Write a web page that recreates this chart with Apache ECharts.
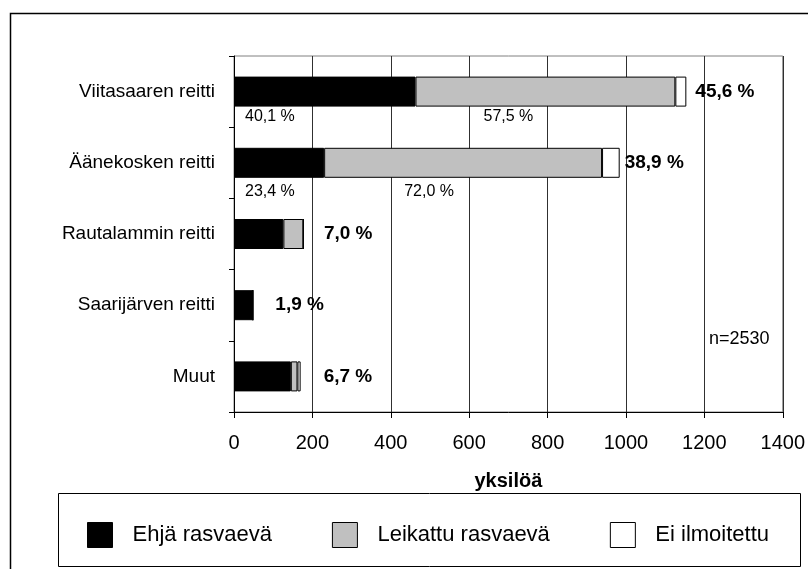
<!DOCTYPE html>
<html><head><meta charset="utf-8">
<script src="https://cdn.jsdelivr.net/npm/echarts@6/dist/echarts.min.js"></script>
<style>html,body{margin:0;padding:0;background:#fff}#c{width:808px;height:569px}</style>
</head><body><div id="c"></div>
<script>
// ---- data ----
const categories = ['Viitasaaren reitti', 'Äänekosken reitti', 'Rautalammin reitti', 'Saarijärven reitti', 'Muut'];
const seriesNames = ['Ehjä rasvaevä', 'Leikattu rasvaevä', 'Ei ilmoitettu'];
const ehja = [463, 230, 126, 48, 145];
const leikattu = [663, 709, 51, 0, 17];
const eiIlmoitettu = [28, 45, 0, 0, 8];
const totalPct = [45.6, 38.9, 7.0, 1.9, 6.7];
const ehjaPct = [40.1, 23.4, null, null, null];
const leikattuPct = [57.5, 72.0, null, null, null];
const xTicks = [0, 200, 400, 600, 800, 1000, 1200, 1400];
const axisName = 'yksilöä';
const nLabel = 'n=2530';

// ---- layout (not data) ----
const totalLabelGap = [9, 5, 20, 22, 23];
const ehjaLabelX = [11, 11];
const leikattuLabelX = [68, 80];
const smallLabelDy = [10, 14];

const FONT = '"Liberation Sans", Arial, sans-serif';
const fmt = v => v.toFixed(1).replace('.', ',') + ' %';

function smallLabel(pct, xs, i) {
  if (pct[i] == null) return undefined;
  return {
    show: true, position: [xs[i], '100%'], offset: [0, smallLabelDy[i]],
    align: 'left', verticalAlign: 'middle',
    formatter: fmt(pct[i]), fontSize: 16, color: '#000', fontFamily: FONT
  };
}

const barBase = { type: 'bar', stack: 'total', barWidth: 30 };

const chart = echarts.init(document.getElementById('c'), null, { renderer: 'canvas' });
chart.setOption({
  animation: false,
  backgroundColor: '#fff',
  textStyle: { fontFamily: FONT, color: '#000' },
  grid: { left: 234, right: 25, top: 56, bottom: 157, show: true, borderColor: '#808080', borderWidth: 1 },
  xAxis: {
    type: 'value', min: xTicks[0], max: xTicks[xTicks.length - 1], interval: xTicks[1] - xTicks[0],
    axisLine: { show: true, lineStyle: { color: '#000', width: 1 } },
    axisTick: { show: true, length: 6, lineStyle: { color: '#000' } },
    axisLabel: { fontSize: 20, color: '#000', margin: 21, fontFamily: FONT, formatter: v => String(v) },
    splitLine: { show: true, lineStyle: { color: '#303030', width: 1 } },
    name: axisName, nameLocation: 'middle', nameGap: 59,
    nameTextStyle: { fontSize: 20, fontWeight: 'bold', color: '#000', fontFamily: FONT }
  },
  yAxis: {
    type: 'category', inverse: true, data: categories,
    axisLine: { show: true, lineStyle: { color: '#000', width: 1 } },
    axisTick: { show: true, length: 5, lineStyle: { color: '#000' } },
    axisLabel: { fontSize: 19, color: '#000', margin: 19, fontFamily: FONT },
    splitLine: { show: false }
  },
  legend: {
    left: 82, top: 517, itemWidth: 25, itemHeight: 25, itemGap: 60,
    icon: 'rect', data: seriesNames,
    itemStyle: { borderColor: '#000', borderWidth: 1 },
    textStyle: { fontSize: 22, color: '#000', fontFamily: FONT, padding: [0, 0, 0, 15], lineHeight: 25 }
  },
  graphic: [
    { type: 'rect', shape: { x: 10.5, y: 13.5, width: 900, height: 700 }, style: { fill: 'none', stroke: '#000', lineWidth: 1.5 }, silent: true },
    { type: 'rect', shape: { x: 58.5, y: 493.5, width: 742, height: 73 }, style: { fill: 'none', stroke: '#000', lineWidth: 1 }, silent: true },
    { type: 'text', left: 709, top: 330, style: { text: nLabel, fontSize: 18, fill: '#000', font: '18px ' + FONT } }
  ],
  series: [
    Object.assign({}, barBase, {
      name: seriesNames[0],
      itemStyle: { color: '#000', borderColor: '#000', borderWidth: 1 },
      data: ehja.map((v, i) => ({ value: v, label: smallLabel(ehjaPct, ehjaLabelX, i) }))
    }),
    Object.assign({}, barBase, {
      name: seriesNames[1],
      itemStyle: { color: '#c0c0c0', borderColor: '#000', borderWidth: 1 },
      data: leikattu.map((v, i) => ({ value: v, label: smallLabel(leikattuPct, leikattuLabelX, i) }))
    }),
    Object.assign({}, barBase, {
      name: seriesNames[2],
      itemStyle: { color: '#fff', borderColor: '#000', borderWidth: 1 },
      data: eiIlmoitettu.map((v, i) => ({
        value: v,
        label: {
          show: true, position: 'right', distance: totalLabelGap[i],
          formatter: fmt(totalPct[i]), fontSize: 19, fontWeight: 'bold', color: '#000', fontFamily: FONT
        }
      }))
    })
  ]
});
</script>
</body></html>
